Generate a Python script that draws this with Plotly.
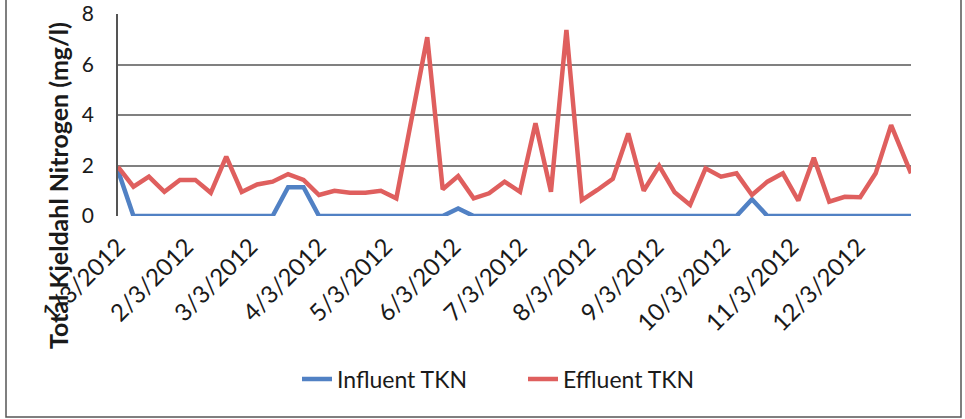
import datetime as dt
import plotly.graph_objects as go

# ---- data ----
start_date = dt.date(2012, 1, 3)
n_weeks = 51
dates = [start_date + dt.timedelta(days=7 * i) for i in range(n_weeks)] + [dt.date(2012, 12, 27)]

influent_tkn = [1.8, 0, 0, 0, 0, 0, 0, 0, 0, 0,
                0, 1.14, 1.14, 0, 0, 0, 0, 0, 0, 0,
                0, 0, 0.3, 0, 0, 0, 0, 0, 0, 0,
                0, 0, 0, 0, 0, 0, 0, 0, 0, 0,
                0, 0.66, 0, 0, 0, 0, 0, 0, 0, 0,
                0, 0]

effluent_tkn = [1.95, 1.16, 1.56, 0.96, 1.43, 1.43, 0.92, 2.35, 0.95, 1.25,
                1.36, 1.66, 1.43, 0.83, 1.0, 0.92, 0.92, 1.0, 0.70, 3.9,
                7.08, 1.06, 1.58, 0.70, 0.90, 1.36, 0.96, 3.67, 0.96, 7.37,
                0.63, 1.03, 1.47, 3.27, 1.0, 1.99, 0.94, 0.44, 1.89, 1.56,
                1.69, 0.83, 1.36, 1.69, 0.61, 2.31, 0.57, 0.76, 0.74, 1.69,
                3.60, 1.69]

tick_dates = [dt.date(2012, m, 3) for m in range(1, 13)]
tick_labels = [f"{m}/3/2012" for m in range(1, 13)]
y_ticks = [0, 2, 4, 6, 8]

# ---- figure ----
W, H = 965, 419
L, R, T, B = 118, 54, 14, 203
pw, ph = W - L - R, H - T - B

def px_x(x):
    return (x - L) / pw

def px_y(y):
    return (H - B - y) / ph

FONT = "Lato, 'Open Sans', sans-serif"

fig = go.Figure()
fig.add_trace(go.Scatter(x=dates, y=influent_tkn, mode="lines", name="Influent TKN",
                         line=dict(color="#5181C4", width=4.5)))
fig.add_trace(go.Scatter(x=dates, y=effluent_tkn, mode="lines", name="Effluent TKN",
                         line=dict(color="#DF5F5E", width=4.5)))

fig.update_layout(
    width=W, height=H,
    margin=dict(l=L, r=R, t=T, b=B, autoexpand=False),
    paper_bgcolor="white", plot_bgcolor="white",
    font=dict(family=FONT, color="#1a1a1a"),
    showlegend=True,
    legend=dict(orientation="h", x=px_x(297), xanchor="left",
                y=px_y(379), yanchor="middle",
                font=dict(size=23, family=FONT, color="#1a1a1a"),
                entrywidth=181, entrywidthmode="pixels",
                bgcolor="rgba(0,0,0,0)"),
    xaxis=dict(type="date",
               range=[dates[0], dates[-1]],
               tickmode="array", tickvals=tick_dates, ticktext=tick_labels,
               tickangle=-45, tickfont=dict(size=24, family=FONT, color="#1a1a1a"),
               showgrid=False, zeroline=False, showline=False, ticks="",
               ticklabelstandoff=11),
    yaxis=dict(range=[0, 8], tickvals=y_ticks,
               tickfont=dict(size=21, family=FONT, color="#1a1a1a"),
               showgrid=True, gridcolor="#808080", gridwidth=1.5,
               zeroline=False, showline=True, linecolor="#555555", linewidth=1.5,
               ticks="", ticklabelstandoff=18),
    annotations=[dict(text="<b>Total Kjeldahl Nitrogen (mg/l)</b>", textangle=-90,
                      xref="paper", yref="paper", x=px_x(58), y=px_y(186),
                      xanchor="center", yanchor="middle", showarrow=False,
                      font=dict(size=25, family=FONT, color="#1a1a1a"))],
    shapes=[dict(type="rect", xref="paper", yref="paper",
                 x0=px_x(6), x1=px_x(961), y0=px_y(417), y1=px_y(-6),
                 line=dict(color="#555555", width=1.5), fillcolor="rgba(0,0,0,0)",
                 layer="below")],
)

fig.write_html("out.html", config={"displayModeBar": False},
               post_script="document.body.style.margin='0';document.body.style.overflow='hidden';")
